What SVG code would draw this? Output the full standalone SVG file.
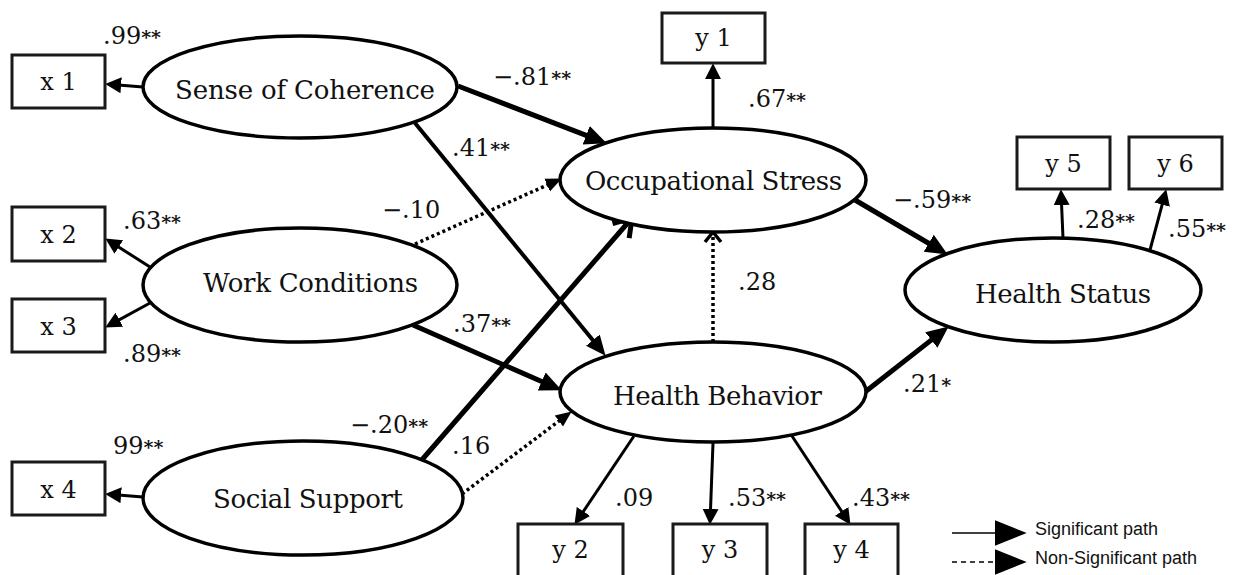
<svg xmlns="http://www.w3.org/2000/svg" width="1234" height="575" viewBox="0 0 1234 575">
<style>
.node ellipse{fill:#fff;stroke:#000;stroke-width:3.5}
.box rect{fill:#fff;stroke:#1a1a1a;stroke-width:3}
.lbl{font-family:"DejaVu Serif","Liberation Serif",serif;font-size:26px;fill:#111;text-anchor:middle}
.blbl{font-family:"DejaVu Serif","Liberation Serif",serif;font-size:24px;fill:#111;text-anchor:middle}
.coef{font-family:"DejaVu Serif","Liberation Serif",serif;font-size:24px;fill:#111}
.st{font-size:19px;font-weight:bold}
.thin{stroke:#000;stroke-width:3;fill:none}
.mid{stroke:#000;stroke-width:4;fill:none}
.thick{stroke:#000;stroke-width:5;fill:none}
.dot{stroke:#000;stroke-width:3.5;fill:none;stroke-dasharray:3 3}
.leg{font-family:"Liberation Sans",Arial,sans-serif;font-size:18px;fill:#111}
</style>
<defs>
<marker id="as" markerUnits="userSpaceOnUse" markerWidth="16" markerHeight="16" viewBox="0 0 14 14" refX="8" refY="7" orient="auto"><path d="M0,0 L14,7 L0,14 z" fill="#000"/></marker>
<marker id="am" markerUnits="userSpaceOnUse" markerWidth="20" markerHeight="20" viewBox="0 0 18 16" refX="10" refY="8" orient="auto"><path d="M0,0 L18,8 L0,16 z" fill="#000"/></marker>
<marker id="al" markerUnits="userSpaceOnUse" markerWidth="22" markerHeight="22" viewBox="0 0 20 18" refX="12" refY="9" orient="auto"><path d="M0,0 L20,9 L0,18 z" fill="#000"/></marker>
<marker id="ad" markerUnits="userSpaceOnUse" markerWidth="16" markerHeight="16" viewBox="0 0 14 12" refX="8" refY="6" orient="auto"><path d="M0,0 L14,6 L0,12 z" fill="#000"/></marker>
<marker id="cv" markerUnits="userSpaceOnUse" markerWidth="28" markerHeight="28" viewBox="-22 -14 28 28" refX="-2" refY="0" orient="auto"><path d="M-17,-11 L0,0 L-17,11" fill="none" stroke="#000" stroke-width="5"/></marker>
<marker id="cvd" markerUnits="userSpaceOnUse" markerWidth="24" markerHeight="24" viewBox="-18 -12 24 24" refX="-2" refY="0" orient="auto"><path d="M-10,-8 L0,0 L-10,8" fill="none" stroke="#000" stroke-width="3.5"/></marker>
<marker id="lg" markerUnits="userSpaceOnUse" markerWidth="32" markerHeight="26" viewBox="0 0 30 24" refX="4" refY="12" orient="auto"><path d="M0,0 L30,12 L0,24 z" fill="#000"/></marker>
</defs>

<g id="connectors">
<line class="thin" x1="143" y1="87" x2="112" y2="84.5" marker-end="url(#as)"/>
<line class="thin" x1="150" y1="267" x2="111.1" y2="242.2" marker-end="url(#as)"/>
<line class="thin" x1="150" y1="303" x2="111.3" y2="324.1" marker-end="url(#as)"/>
<line class="thin" x1="143" y1="497" x2="112" y2="494.5" marker-end="url(#as)"/>
<line class="thin" x1="713" y1="128" x2="713" y2="70" marker-end="url(#as)"/>
<line class="thin" x1="1063" y1="238" x2="1061.2" y2="196" marker-end="url(#as)"/>
<line class="thin" x1="1150" y1="250" x2="1164.5" y2="195.8" marker-end="url(#as)"/>
<line class="thin" x1="634" y1="436" x2="578.3" y2="519" marker-end="url(#as)"/>
<line class="thin" x1="713" y1="443" x2="710.2" y2="518" marker-end="url(#as)"/>
<line class="thin" x1="790" y1="433" x2="846.7" y2="519" marker-end="url(#as)"/>
<line class="thick" x1="458" y1="86" x2="598.5" y2="140.1" marker-end="url(#al)"/>
<line class="mid" x1="415" y1="123" x2="599.9" y2="348.8" marker-end="url(#am)"/>
<line class="thick" x1="413" y1="325" x2="553.7" y2="386.8" marker-end="url(#al)"/>
<line class="thick" x1="855" y1="200" x2="940.1" y2="250" marker-end="url(#al)"/>
<line class="thick" x1="865" y1="392" x2="941.7" y2="331.9" marker-end="url(#al)"/>
<line class="thick" x1="420" y1="462" x2="630.7" y2="219.5" marker-end="url(#cv)"/>
<line class="dot" x1="415" y1="244" x2="555.5" y2="181.4" marker-end="url(#ad)"/>
<line class="dot" x1="462" y1="494" x2="566.2" y2="415.6" marker-end="url(#ad)"/>
<line class="dot" x1="713" y1="342" x2="713" y2="234" marker-end="url(#cvd)"/>
</g>

<g id="node-soc" class="node"><ellipse cx="300" cy="87" rx="157" ry="51"/><text class="lbl" x="305" y="99" textLength="260">Sense of Coherence</text></g>
<g id="node-wc" class="node"><ellipse cx="300" cy="285" rx="157" ry="57"/><text class="lbl" x="310.5" y="292" textLength="215">Work Conditions</text></g>
<g id="node-ss" class="node"><ellipse cx="303" cy="498" rx="160" ry="57"/><text class="lbl" x="308" y="508" textLength="190">Social Support</text></g>
<g id="node-os" class="node"><ellipse cx="713" cy="180" rx="153" ry="52"/><text class="lbl" x="713.5" y="190" textLength="257">Occupational Stress</text></g>
<g id="node-hb" class="node"><ellipse cx="713" cy="392" rx="153" ry="50"/><text class="lbl" x="717.5" y="405" textLength="209">Health Behavior</text></g>
<g id="node-hs" class="node"><ellipse cx="1053" cy="290" rx="148" ry="52"/><text class="lbl" x="1063" y="303" textLength="176">Health Status</text></g>

<g id="node-x1" class="box"><rect x="12" y="55" width="93" height="53"/><text class="blbl" x="58.5" y="90">x 1</text></g>
<g id="node-x2" class="box"><rect x="12" y="207" width="93" height="54"/><text class="blbl" x="58.5" y="243">x 2</text></g>
<g id="node-x3" class="box"><rect x="12" y="299" width="93" height="53"/><text class="blbl" x="58.5" y="335">x 3</text></g>
<g id="node-x4" class="box"><rect x="12" y="462" width="93" height="53"/><text class="blbl" x="58.5" y="498">x 4</text></g>
<g id="node-y1" class="box"><rect x="662" y="13" width="103" height="50"/><text class="blbl" x="713.5" y="46">y 1</text></g>
<g id="node-y5" class="box"><rect x="1017" y="137" width="93" height="52"/><text class="blbl" x="1063.5" y="172">y 5</text></g>
<g id="node-y6" class="box"><rect x="1129" y="137" width="93" height="52"/><text class="blbl" x="1175.5" y="172">y 6</text></g>
<g id="node-y2" class="box"><rect x="518" y="524" width="105" height="60"/><text class="blbl" x="570.5" y="558">y 2</text></g>
<g id="node-y3" class="box"><rect x="673" y="524" width="94" height="60"/><text class="blbl" x="720" y="558">y 3</text></g>
<g id="node-y4" class="box"><rect x="805" y="524" width="93" height="60"/><text class="blbl" x="851.5" y="558">y 4</text></g>

<g id="labels" class="coef">
<text x="103" y="44">.99<tspan class="st">**</tspan></text>
<text x="493" y="85">−.81<tspan class="st">**</tspan></text>
<text x="748" y="107">.67<tspan class="st">**</tspan></text>
<text x="452" y="156">.41<tspan class="st">**</tspan></text>
<text x="123" y="229">.63<tspan class="st">**</tspan></text>
<text x="382" y="218">−.10</text>
<text x="123" y="362">.89<tspan class="st">**</tspan></text>
<text x="453" y="332">.37<tspan class="st">**</tspan></text>
<text x="738" y="290">.28</text>
<text x="893" y="208">−.59<tspan class="st">**</tspan></text>
<text x="1077" y="228">.28<tspan class="st">**</tspan></text>
<text x="1168" y="237">.55<tspan class="st">**</tspan></text>
<text x="903" y="392">.21<tspan class="st">*</tspan></text>
<text x="350" y="433">−.20<tspan class="st">**</tspan></text>
<text x="452" y="454">.16</text>
<text x="113" y="454">99<tspan class="st">**</tspan></text>
<text x="615" y="506">.09</text>
<text x="728" y="506">.53<tspan class="st">**</tspan></text>
<text x="852" y="506">.43<tspan class="st">**</tspan></text>
</g>

<g id="legend">
<line x1="952" y1="533" x2="999" y2="533" stroke="#000" stroke-width="1.5" marker-end="url(#lg)"/>
<text class="leg" x="1035" y="535">Significant path</text>
<line x1="952" y1="562" x2="999" y2="562" stroke="#000" stroke-width="1.5" stroke-dasharray="5 4" marker-end="url(#lg)"/>
<text class="leg" x="1035" y="564">Non-Significant path</text>
</g>
</svg>
